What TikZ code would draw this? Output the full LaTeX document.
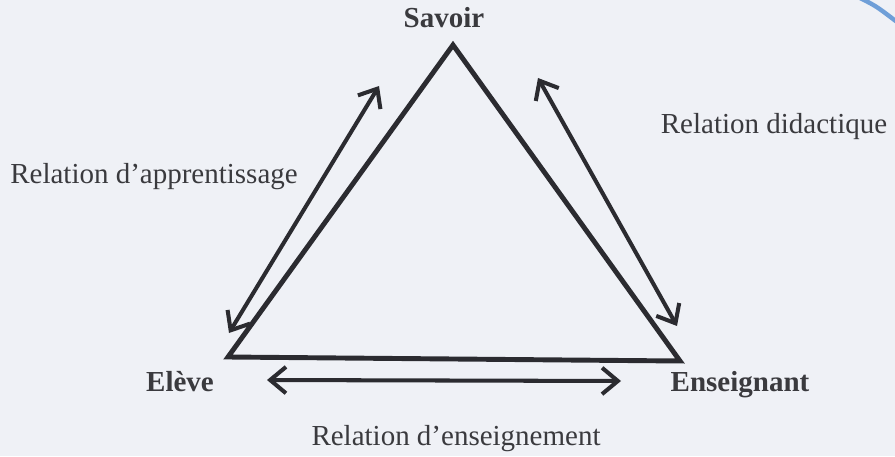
\documentclass[tikz,border=0pt]{standalone}
\usepackage{fontspec}
\setmainfont{Liberation Serif}
\usetikzlibrary{arrows.meta}
\definecolor{paper}{HTML}{EFF1F6}
\definecolor{ink}{HTML}{2B2B30}
\definecolor{txt}{HTML}{3A3A3E}
\definecolor{scanblue}{HTML}{6F9FD8}

\begin{document}
\begin{tikzpicture}[x=0.02cm,y=-0.02cm,>={Straight Barb[length=9pt,width=15pt]},line join=miter,
  lbl/.style={font=\fontsize{16.5}{20}\selectfont,text=txt,inner sep=0pt,anchor=base},
  pole/.style={lbl,font=\fontsize{16.5}{20}\selectfont\bfseries},
  side/.style={line width=2.8pt,draw=ink},
  rel/.style={<->,line width=2.3pt,draw=ink}]
  \fill[paper] (0,0) rectangle (895,456);
  \useasboundingbox (0,0) rectangle (895,456);
  % corners of the triangle
  \coordinate (S) at (453,45);
  \coordinate (E) at (228,357);
  \coordinate (N) at (680,361);
  % ends of the relation arrows
  \coordinate (LA1) at (379,86);
  \coordinate (LA2) at (229,333);
  \coordinate (RA1) at (538,78);
  \coordinate (RA2) at (677,326);
  \coordinate (BA1) at (267,380);
  \coordinate (BA2) at (621,381);
  \draw[side] (S) -- (E) -- (N) -- cycle;
  \draw[rel] (LA1) -- (LA2);
  \draw[rel] (RA1) -- (RA2);
  \draw[rel] (BA1) -- (BA2);
  \node[pole] (savoir) at (444,28) {Savoir};
  \node[pole] (eleve) at (180,391) {Elève};
  \node[pole] (ens) at (740,391) {Enseignant};
  \node[lbl] (didac) at (774,133) {Relation didactique};
  \node[lbl] (appr) at (154,183) {Relation d’apprentissage};
  \node[lbl] (enseig) at (456,445) {Relation d’enseignement};
  % scanner edge
  \draw[scanblue,line width=2.5pt] (860,-2) .. controls (876,6) .. (897,22);
\end{tikzpicture}
\end{document}
